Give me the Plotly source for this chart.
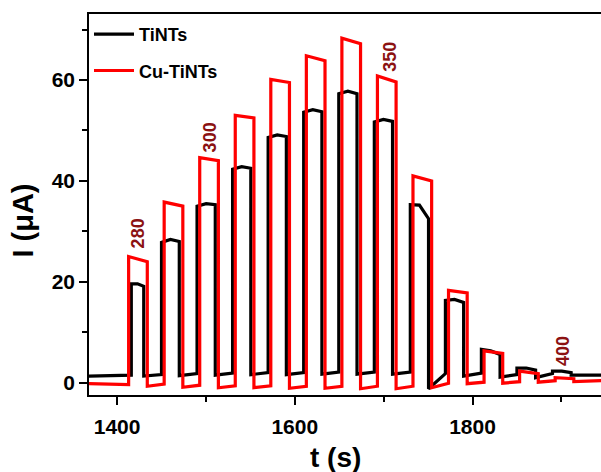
import plotly.graph_objects as go

# ---------------- data ----------------
t_start, t_end = 1368.0, 1946.0

# Cu-TiNTs (red)
red_on  = [1413, 1453, 1493, 1533, 1573, 1613, 1653, 1693, 1733, 1773, 1813, 1853, 1893]
red_off = [1434, 1474, 1514, 1554, 1594, 1634, 1674, 1714, 1754, 1794, 1834, 1874, 1914]
red_top_a = [25.0, 35.8, 44.6, 53.0, 60.1, 64.8, 68.3, 60.8, 41.0, 18.3, 6.3, 2.3, 1.0]
red_top_b = [24.0, 35.0, 44.0, 52.5, 59.5, 63.8, 67.2, 59.6, 40.0, 17.8, 5.8, 1.8, 0.8]
red_pre   = [-0.2, -0.4]
red_off_a = [-0.7, -0.9, -1.0, -1.0, -1.1, -1.1, -1.2, -1.2, -1.0, -0.2, -0.1, 0.1, 0.2]
red_off_b = [-0.3, -0.5, -0.6, -0.6, -0.7, -0.7, -0.7, -0.7, -0.1, 0.1, 0.2, 0.4, 0.4]

# TiNTs (black)
blk_on  = [1416, 1450, 1490, 1530, 1570, 1610, 1649.5, 1689.5, 1730, 1769.5, 1810, 1850, 1890]
blk_off = [1430, 1470, 1510.5, 1550.5, 1590.5, 1630.5, 1670, 1710, 1750.5, 1790, 1831, 1871, 1911]
blk_top_a = [19.6, 27.8, 35.0, 42.3, 48.6, 53.6, 57.3, 51.7, 35.3, 16.3, 6.6, 2.9, 2.3]
blk_top_m = [19.6, 28.4, 35.5, 42.8, 49.1, 54.1, 57.8, 52.2, 35.2, 16.5, 6.3, 2.9, 2.3]
blk_top_b = [19.1, 28.0, 35.3, 42.5, 48.8, 53.7, 57.3, 51.8, 32.5, 15.9, 5.6, 2.5, 2.0]
blk_pre   = [1.3, 1.5]
blk_off_a = [1.3, 1.4, 1.5, 1.6, 1.6, 1.7, 1.7, 1.7, -1.2, 1.3, 1.1, 1.0, 1.5]
blk_off_b = [1.6, 1.8, 1.9, 2.0, 2.0, 2.1, 2.1, 2.1, 1.8, 1.9, 1.6, 1.8, 1.5]

# wavelength labels (nm) placed over pulses
lab_text = ["280", "300", "350", "400"]
lab_t    = [1423, 1505, 1707, 1902]
lab_I    = [29.5, 48.7, 64.6, 6.3]

x_ticks = [1400, 1600, 1800]
y_ticks = [0, 20, 40, 60]


def build(on, off, top_a, top_m, top_b, pre, off_a, off_b):
    xs, ys = [t_start, on[0]], [pre[0], pre[1]]
    for k in range(len(on)):
        xs += [on[k], (on[k] + off[k]) / 2.0, off[k], off[k]]
        ys += [top_a[k], top_m[k], top_b[k], off_a[k]]
        nxt = on[k + 1] if k + 1 < len(on) else t_end
        xs.append(nxt)
        ys.append(off_b[k])
    return xs, ys


bx, by = build(blk_on, blk_off, blk_top_a, blk_top_m, blk_top_b, blk_pre, blk_off_a, blk_off_b)
red_top_m = [(a + b) / 2.0 for a, b in zip(red_top_a, red_top_b)]
rx, ry = build(red_on, red_off, red_top_a, red_top_m, red_top_b, red_pre, red_off_a, red_off_b)

FONT = "Liberation Sans, Arial, sans-serif"

fig = go.Figure()
fig.add_trace(go.Scatter(x=bx, y=by, mode="lines", name="TiNTs",
                         line=dict(color="black", width=3.2), legendgroup="a"))
fig.add_trace(go.Scatter(x=rx, y=ry, mode="lines", name="Cu-TiNTs",
                         line=dict(color="#ff0000", width=3.2), legendgroup="b"))

for txt, tx, ty in zip(lab_text, lab_t, lab_I):
    fig.add_annotation(x=tx, y=ty, text=txt, showarrow=False, textangle=-90,
                       font=dict(family=FONT, size=18, color="#8B1212", weight="bold"),
                       xanchor="center", yanchor="middle")

# axis titles as annotations for exact placement
fig.add_annotation(xref="paper", yref="paper", x=0.482, y=-0.163, text="t (s)",
                   showarrow=False, xanchor="center", yanchor="middle",
                   font=dict(family=FONT, size=28, color="black", weight="bold"))
fig.add_annotation(xref="paper", yref="paper", x=-0.128, y=0.459, text="I (μA)",
                   showarrow=False, xanchor="center", yanchor="middle", textangle=-90,
                   font=dict(family=FONT, size=29, color="black", weight="bold"))

fig.update_layout(
    width=601, height=472,
    margin=dict(l=89, r=0, t=14, b=77),
    paper_bgcolor="white", plot_bgcolor="white",
    showlegend=True,
    legend=dict(x=0.0, y=0.995, xanchor="left", yanchor="top",
                bgcolor="rgba(0,0,0,0)", borderwidth=0,
                font=dict(family=FONT, size=18, color="black", weight="bold"),
                tracegroupgap=10, traceorder="grouped",
                itemwidth=40),
)
fig.update_xaxes(
    range=[1368.4, 1944.6], tickvals=x_ticks, ticktext=[str(v) for v in x_ticks],
    ticks="outside", ticklen=8, tickwidth=1.5, tickcolor="black",
    minor=dict(ticks="outside", ticklen=5, tickwidth=1.5, tickcolor="black", dtick=100, tick0=1400),
    showline=True, linecolor="black", linewidth=1.5, mirror=True,
    showgrid=False, zeroline=False, ticklabelstandoff=4,
    tickfont=dict(family=FONT, size=21, color="black", weight="bold"),
)
fig.update_yaxes(
    range=[-2.44, 73.08], tickvals=y_ticks, ticktext=[str(v) for v in y_ticks],
    ticks="outside", ticklen=8, tickwidth=1.5, tickcolor="black",
    minor=dict(ticks="outside", ticklen=5, tickwidth=1.5, tickcolor="black", dtick=10, tick0=0),
    showline=True, linecolor="black", linewidth=1.5, mirror=False,
    showgrid=False, zeroline=False,
    tickfont=dict(family=FONT, size=21, color="black", weight="bold"),
)

fig.write_html("out.html")
